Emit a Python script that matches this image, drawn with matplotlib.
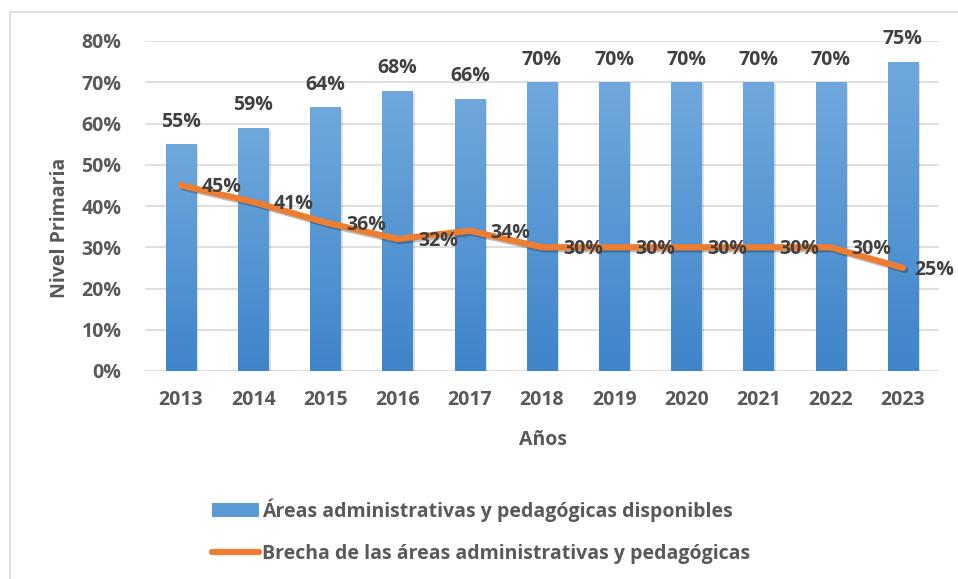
import matplotlib
matplotlib.use("Agg")
import matplotlib.pyplot as plt
import numpy as np
from matplotlib.patches import Rectangle, Patch
from matplotlib.lines import Line2D
from matplotlib.colors import LinearSegmentedColormap
import matplotlib.patheffects as pe

years = ["2013", "2014", "2015", "2016", "2017", "2018", "2019", "2020", "2021", "2022", "2023"]
disponibles = [55, 59, 64, 68, 66, 70, 70, 70, 70, 70, 75]
brecha = [45, 41, 36, 32, 34, 30, 30, 30, 30, 30, 25]
yticks = [0, 10, 20, 30, 40, 50, 60, 70, 80]
serie1 = "Áreas administrativas y pedagógicas disponibles"
serie2 = "Brecha de las áreas administrativas y pedagógicas"

FONT = "Open Sans"
FS = 14
TICKC = "#595959"
LABC = "#404040"
BLUE = "#5B9BD5"
ORANGE = "#ED7D31"

W, H = 958, 579
fig = plt.figure(figsize=(W / 100, H / 100), dpi=100)
fig.patch.set_facecolor("white")

fig.patches.append(Rectangle((10 / W, -0.05), 1.2, 1 - 12 / H + 0.05, transform=fig.transFigure,
                             fill=False, edgecolor="#D9D9D9", linewidth=1.2))

ax = fig.add_axes([145 / W, 1 - 371 / H, (939 - 145) / W, (371 - 41) / H])
x = np.arange(len(years))

bars = ax.bar(x, disponibles, width=0.42, color=BLUE, zorder=2,
              path_effects=[pe.SimplePatchShadow(offset=(1.5, -1.5), alpha=0.15), pe.Normal()])
grad = np.linspace(0, 1, 256).reshape(-1, 1)
cmap = LinearSegmentedColormap.from_list("g", ["#3E85CA", "#70A8DD"])
for b in bars:
    x0, w, h = b.get_x(), b.get_width(), b.get_height()
    im = ax.imshow(grad, extent=[x0, x0 + w, 0, h], origin="lower", cmap=cmap,
                   aspect="auto", zorder=2.1)
    im.set_clip_path(b)

ax.plot(x, brecha, color=ORANGE, linewidth=4.5, solid_capstyle="round", solid_joinstyle="round",
        zorder=3, path_effects=[pe.SimpleLineShadow(offset=(1.5, -1.5), alpha=0.25), pe.Normal()])

ax.set_xlim(-0.5, len(years) - 0.5)
ax.set_ylim(0, 80)
ax.set_yticks(yticks)
ax.set_yticklabels([f"{v}%" for v in yticks])
ax.set_xticks(x)
ax.set_xticklabels(years)
ax.yaxis.grid(True, color="#D9D9D9", linewidth=1.2, zorder=0)
ax.set_axisbelow(True)
for s in ax.spines.values():
    s.set_visible(False)
ax.tick_params(axis="both", length=0, labelsize=FS, labelcolor=TICKC)
ax.tick_params(axis="x", pad=14)
ax.tick_params(axis="y", pad=17)
for lab in ax.get_xticklabels() + ax.get_yticklabels():
    lab.set_fontfamily(FONT)
    lab.set_fontweight("bold")

for xi, v in zip(x, disponibles):
    ax.annotate(f"{v}%", (xi, v), xytext=(0, 9), textcoords="offset points", ha="center",
                va="bottom", fontsize=FS, fontweight="bold", color=LABC, family=FONT, zorder=5)
n = len(brecha)
for i, (xi, v) in enumerate(zip(x, brecha)):
    dx = 15 if i < n - 1 else 8
    ax.annotate(f"{v}%", (xi, v), xytext=(dx, -1.5), textcoords="offset points", ha="left",
                va="center", fontsize=FS, fontweight="bold", color=LABC, family=FONT, zorder=5,
                annotation_clip=False)

fig.text(60 / W, 1 - 228 / H, "Nivel Primaria", rotation=90, ha="center", va="center",
         fontsize=FS, fontweight="bold", color=TICKC, family=FONT)
fig.text(543 / W, 1 - 440 / H, "Años", ha="center", va="center",
         fontsize=FS, fontweight="bold", color=TICKC, family=FONT)

handles = [Patch(facecolor=BLUE, edgecolor="none"),
           Line2D([0], [0], color=ORANGE, linewidth=4.5, solid_capstyle="round")]
leg = fig.legend(handles, [serie1, serie2], loc="upper left", bbox_to_anchor=(212 / W, 1 - 498 / H),
                 frameon=False, handlelength=2.4, handletextpad=0.15, labelspacing=1.15,
                 borderpad=0, borderaxespad=0,
                 prop={"family": FONT, "weight": "bold", "size": FS})
for t in leg.get_texts():
    t.set_color(TICKC)

fig.savefig("out.png", dpi=100, facecolor="white")
